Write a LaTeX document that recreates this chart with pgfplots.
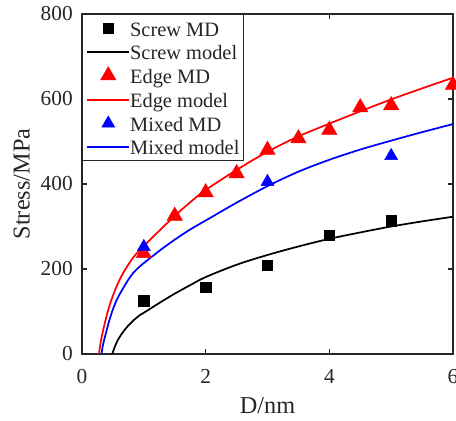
\documentclass[border=0pt]{standalone}
\usepackage{pgfplots}
\pgfplotsset{compat=1.18}
\usepackage{fontspec}
\setmainfont{Liberation Serif}
\definecolor{axgray}{RGB}{38,38,38}
\pgfplotsset{
  linelegend/.style={legend image code/.code={\path (0pt,4.05pt);
    \draw[##1] (0pt,0pt) -- (31.5pt,0pt);}},
  marklegend/.style={legend image code/.code={\draw[mark repeat=2,mark phase=2,##1]
    plot coordinates {(0pt,0pt) (15.75pt,0pt) (31.5pt,0pt)};}},
  squarelegend/.style={legend image code/.code={\path (0pt,6.5pt);
    \draw[mark repeat=2,mark phase=2,##1]
    plot coordinates {(0pt,0pt) (15.75pt,0pt) (31.5pt,0pt)};}},
}
\newcommand{\lstrut}{\rule[-2.75pt]{0pt}{17.55pt}}

\begin{document}
\begin{tikzpicture}
\begin{axis}[
  scale only axis,
  width=278.25pt, height=255pt,
  xmin=0, xmax=6, ymin=0, ymax=800,
  xtick={0,2,4,6}, ytick={0,200,400,600,800},
  tick align=inside, major tick length=3.5pt,
  axis line style={draw=axgray, line width=1.1pt},
  every tick/.style={draw=axgray, line width=1.1pt},
  /pgf/number format/assume math mode=true,
  tick label style={font=\fontsize{16}{19}\selectfont, text=axgray},
  xticklabel style={inner sep=0pt, yshift=-11.25pt},
  yticklabel style={inner sep=0pt, xshift=-6.75pt},
  xlabel={D/nm}, ylabel={Stress/MPa},
  label style={font=\fontsize{18.2}{21}\selectfont, text=axgray},
  xlabel style={at={(axis description cs:0.5,-0.1265)}, anchor=north, inner sep=0pt},
  ylabel style={at={(axis description cs:-0.1851,0.5)}, anchor=north, inner sep=0pt},
  legend cell align=left,
  legend style={at={(0,1)}, anchor=north west, draw=axgray, line width=0.6pt,
    fill=white, font=\fontsize{15.3}{18}\selectfont, text=axgray,
    inner xsep=3pt, inner ysep=1.7pt, row sep=0pt, column sep=0pt,
    nodes={inner sep=0pt, text depth=}},
]
% molecular dynamics results and model curves for screw, edge and mixed dislocations
\addplot[only marks, mark=square*, mark size=3.9pt,
  mark options={fill=black, draw=black, line width=0.4pt}, squarelegend]
  coordinates {(1,125) (2,157) (3,209) (4,280) (5,313)};
\addlegendentry{\lstrut Screw MD}

\addplot[black, line width=1.3pt, smooth, mark=none, linelegend]
  coordinates {(0.49,0) (0.52,13) (0.56,27) (0.6,38) (0.67,53) (0.75,67) (0.84,80)
  (0.94,92) (1.0,97) (1.25,120) (1.5,142) (1.75,162) (2,181) (2.5,210) (3,233)
  (3.5,253) (4,271) (4.5,286) (5,300) (5.5,312) (6,323)};
\addlegendentry{\lstrut Screw model}

\addplot[only marks, mark=triangle*, mark size=6.6pt, color=red,
  mark options={fill=red, draw=red, line width=0.4pt}, marklegend]
  coordinates {(1,237) (1.5,325) (2,380) (2.5,425) (3,480) (3.5,507) (4,527)
  (4.5,580) (5,585) (6,633)};
\addlegendentry{\lstrut Edge MD}

\addplot[red, line width=1.3pt, smooth, mark=none, linelegend]
  coordinates {(0.275,0) (0.29,16) (0.305,30) (0.324,44) (0.35,61) (0.378,78)
  (0.415,99) (0.459,120) (0.51,141) (0.566,161) (0.63,181) (0.70,199) (0.775,216)
  (0.85,231) (1.0,254) (1.25,290) (1.5,325) (1.75,357) (2.0,386) (2.5,433)
  (3.0,476) (3.5,512) (4.0,542) (4.5,571) (5.0,599) (5.5,625) (6.0,650)};
\addlegendentry{\lstrut Edge model}

\addplot[only marks, mark=triangle*, mark size=5.6pt, color=blue,
  mark options={fill=blue, draw=blue, line width=0.4pt}, marklegend]
  coordinates {(1,252) (3,405) (5,466)};
\addlegendentry{\lstrut Mixed MD}

\addplot[blue, line width=1.3pt, smooth, mark=none, linelegend]
  coordinates {(0.315,0) (0.33,14) (0.35,28) (0.378,44) (0.41,62) (0.44,78)
  (0.49,101) (0.54,120) (0.60,138) (0.674,157) (0.75,175) (0.836,192) (0.92,204)
  (1.0,214) (1.131,229) (1.262,244) (1.5,269) (1.75,293) (2.0,314) (2.5,356)
  (3.0,395) (3.5,429) (4.0,457) (4.5,481) (5.0,502) (5.5,522) (6.0,541)};
\addlegendentry{\lstrut Mixed model}

\coordinate (sw) at (rel axis cs:0,0);
\coordinate (ne) at (rel axis cs:1,1);
\end{axis}
\pgfresetboundingbox
\path ([xshift=-61.5pt,yshift=-50.25pt]sw) rectangle ([xshift=2.25pt,yshift=10.5pt]ne);
\end{tikzpicture}
\end{document}
